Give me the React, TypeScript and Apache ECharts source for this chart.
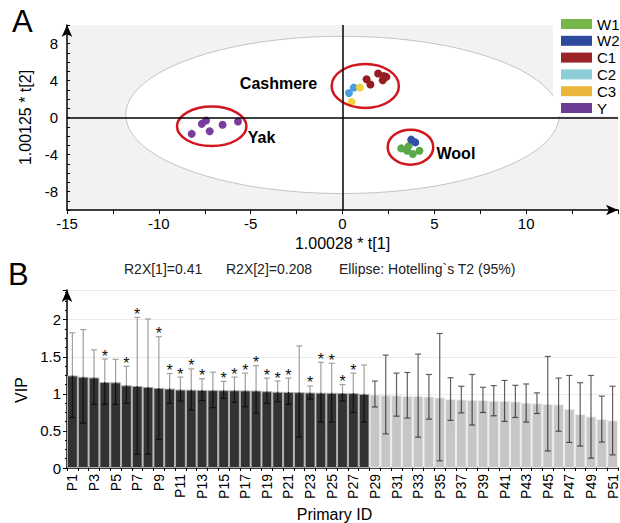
import React, { useEffect, useRef } from 'react';
import * as echarts from 'echarts';

const FONT = '"Liberation Sans", Arial, Helvetica, sans-serif';

// ---------- Panel A: PCA scores ----------
const groupNames = ['W1', 'W2', 'C1', 'C2', 'C3', 'Y'];
const legendColors = ['#78b84a', '#2e4a9e', '#9b2226', '#8ccdd6', '#ecb63a', '#6b3b96'];
const pointColors = ['#5aa948', '#2f4fa8', '#971c22', '#4a9de0', '#f2d33e', '#7a3d9e'];
const w1Points = [[3.2, -3.34], [3.52, -3.59], [3.83, -3.95], [4.19, -3.59], [3.59, -3.12]];
const w2Points = [[3.74, -2.39], [3.96, -2.69]];
const c1Points = [[1.31, 4.13], [1.52, 3.56], [1.94, 4.76], [2.24, 4.49], [2.39, 4.39], [2.19, 4.03]];
const c2Points = [[0.35, 2.64], [0.62, 3.23]];
const c3Points = [[0.95, 3.23], [0.5, 1.66]];
const yPoints = [[-8.21, -1.77], [-7.66, -0.69], [-7.43, -0.33], [-7.23, -1.49], [-6.53, -0.79], [-5.69, -0.44]];
const groupPoints = [w1Points, w2Points, c1Points, c2Points, c3Points, yPoints];

// [cx, cy, rx, ry] in data units
const hotellingEllipse = [[0, 0.28, 11.8, 8.5]];
const clusterEllipses = [[1.24, 3.41, 1.83, 2.37], [-7.12, -0.95, 1.89, 2.13], [3.7, -3.21, 1.24, 1.89]];
// [label, x, y]
const clusterLabels = [['Cashmere', -5.59, 3.63], ['Yak', -5.16, -2.15], ['Wool', 5.12, -3.93]];
const xTickLabelsA = [-15, -10, -5, 0, 5, 10];
const yTickLabelsA = [-8, -4, 0, 4, 8];

// ---------- Panel B: VIP ----------
const categories = Array.from({ length: 51 }, (_, i) => `P${i + 1}`);
const vip = [
  1.248, 1.23, 1.221, 1.159, 1.155, 1.115, 1.106, 1.093, 1.08, 1.071,
  1.058, 1.056, 1.052, 1.05, 1.049, 1.048, 1.046, 1.044, 1.035, 1.028,
  1.026, 1.022, 1.018, 1.016, 1.014, 1.012, 1.01, 1.0, 0.991, 0.982,
  0.981, 0.973, 0.972, 0.965, 0.951, 0.929, 0.925, 0.917, 0.915, 0.908,
  0.906, 0.898, 0.881, 0.872, 0.863, 0.858, 0.796, 0.726, 0.695, 0.659,
  0.642,
];
const errLow = [
  0.681, 0.606, 0.858, 0.858, 0.858, 0.872, 0.186, 0.186, 0.385, 0.872,
  0.903, 0.783, 0.91, 0.814, 0.938, 0.885, 0.827, 0.739, 0.872, 0.894,
  0.858, 0.416, 0.929, 0.619, 0.619, 0.903, 0.748, 0.619, 0.823, 0.46,
  0.699, 0.673, 0.416, 0.659, 0.097, 0.642, 0.743, 0.58, 0.748, 0.704,
  0.628, 0.681, 0.619, 0.735, 0.23, 0.496, 0.345, 0.296, 0.133, 0.35,
  0.177,
];
const errHigh = [
  1.823, 1.867, 1.593, 1.469, 1.465, 1.372, 2.031, 2.009, 1.77, 1.274,
  1.226, 1.336, 1.204, 1.292, 1.168, 1.226, 1.279, 1.38, 1.212, 1.173,
  1.212, 1.646, 1.106, 1.425, 1.412, 1.124, 1.279, 1.389, 1.173, 1.522,
  1.279, 1.288, 1.535, 1.261, 1.814, 1.217, 1.102, 1.261, 1.088, 1.111,
  1.181, 1.115, 1.133, 1.013, 1.504, 1.212, 1.248, 1.15, 1.248, 0.969,
  1.102,
];
const significant = ['P4', 'P6', 'P7', 'P9', 'P10', 'P11', 'P12', 'P13', 'P15', 'P16', 'P17', 'P18', 'P19', 'P20', 'P21', 'P23', 'P24', 'P25', 'P26', 'P27'];
const yTickLabelsB = [0, 0.5, 1, 1.5, 2];
const vipThreshold = 1;

export default function App() {
  const ref = useRef<HTMLDivElement>(null);
  useEffect(() => {
    if (!ref.current) return;
    const chart = echarts.init(ref.current, undefined, { renderer: 'svg' });

    const ellipseRender = (stroke: string, fill: string, lw: number) => (params: any, api: any) => {
      const c = api.coord([api.value(0), api.value(1)]);
      const s = api.size([api.value(2), api.value(3)]);
      return {
        type: 'ellipse',
        shape: { cx: c[0], cy: c[1], rx: s[0], ry: s[1] },
        style: { fill, stroke, lineWidth: lw },
      };
    };

    const scatterSeries = groupNames.map((name, gi) => ({
      type: 'scatter',
      name,
      xAxisIndex: 0,
      yAxisIndex: 0,
      z: 4,
      symbolSize: 8,
      itemStyle: { color: pointColors[gi], opacity: 1 },
      data: groupPoints[gi],
    }));

    const option: any = {
      animation: false,
      backgroundColor: '#ffffff',
      textStyle: { fontFamily: FONT },
      grid: [
        { left: 67, top: 25, width: 551, height: 185, show: true, backgroundColor: '#f2f2f2', borderWidth: 0 },
        { left: 67, top: 290, width: 551, height: 180.5 },
      ],
      legend: {
        data: groupNames.map((n, i) => ({ name: n, itemStyle: { color: legendColors[i] } })),
        orient: 'vertical',
        left: 553,
        top: 12,
        padding: [4, 0, 0, 8],
        backgroundColor: '#ffffff',
        itemWidth: 31,
        itemHeight: 10,
        itemGap: 0.8,
        icon: 'rect',
        selectedMode: false,
        textStyle: { fontSize: 15, lineHeight: 16, color: '#000', fontFamily: FONT },
      },
      xAxis: [
        {
          type: 'value', gridIndex: 0, min: -15, max: 15, interval: 2.5,
          axisLine: { show: true, onZero: false, lineStyle: { color: '#000', width: 1.5 }, symbol: ['none', 'arrow'], symbolSize: [8, 12] },
          axisTick: { show: true, length: 4, lineStyle: { color: '#000' } },
          axisLabel: { customValues: xTickLabelsA, fontSize: 15, color: '#000', margin: 6, fontFamily: FONT },
          splitLine: { show: false },
          name: '1.00028 * t[1]', nameLocation: 'middle', nameGap: 25,
          nameTextStyle: { fontSize: 16, color: '#000', fontFamily: FONT },
        },
        {
          type: 'category', gridIndex: 1, data: categories,
          axisLine: { lineStyle: { color: '#000', width: 1.5 } },
          axisTick: { show: true, length: 3, interval: 0, lineStyle: { color: '#000' } },
          axisLabel: { rotate: 90, interval: 1, fontSize: 14, color: '#000', margin: 6, fontFamily: FONT },
          name: 'Primary ID', nameLocation: 'middle', nameGap: 38,
          nameTextStyle: { fontSize: 16, color: '#000', fontFamily: FONT, padding: [0, 16, 0, 0] },
        },
      ],
      yAxis: [
        {
          type: 'value', gridIndex: 0, min: -10, max: 10, interval: 1,
          axisLine: { show: true, onZero: false, lineStyle: { color: '#000', width: 1.5 }, symbol: ['none', 'arrow'], symbolSize: [8, 12] },
          axisTick: { show: true, inside: true, length: 3, lineStyle: { color: '#000' } },
          axisLabel: { customValues: yTickLabelsA, fontSize: 15, color: '#000', margin: 9, fontFamily: FONT },
          splitLine: { show: false },
          name: '1.00125 * t[2]', nameLocation: 'middle', nameGap: 24,
          nameTextStyle: { fontSize: 16, color: '#000', fontFamily: FONT },
        },
        {
          type: 'value', gridIndex: 1, min: 0, max: 2.4, interval: 0.5,
          axisLine: { show: true, lineStyle: { color: '#000', width: 1.5 }, symbol: ['none', 'arrow'], symbolSize: [8, 12] },
          axisTick: { show: true, length: 4, lineStyle: { color: '#000' } },
          minorTick: { show: true, splitNumber: 4, length: 2, lineStyle: { color: '#000' } },
          axisLabel: { customValues: yTickLabelsB, fontSize: 15, color: '#000', margin: 6, fontFamily: FONT },
          splitLine: { show: true, lineStyle: { color: '#ebebeb' } },
          name: 'VIP', nameLocation: 'middle', nameGap: 28,
          nameTextStyle: { fontSize: 16, color: '#000', fontFamily: FONT, padding: [0, 22, 0, 0] },
        },
      ],
      graphic: [
        { type: 'text', left: 12, top: 6, style: { text: 'A', fontSize: 31, fontFamily: FONT, fill: '#000' } },
        { type: 'text', left: 8, top: 259, style: { text: 'B', fontSize: 31, fontFamily: FONT, fill: '#000' } },
        { type: 'text', left: 124, top: 262, style: { text: 'R2X[1]=0.41', fontSize: 14, fontFamily: FONT, fill: '#222' } },
        { type: 'text', left: 226, top: 262, style: { text: 'R2X[2]=0.208', fontSize: 14, fontFamily: FONT, fill: '#222' } },
        { type: 'text', left: 339, top: 262, style: { text: 'Ellipse: Hotelling`s T2 (95%)', fontSize: 14, fontFamily: FONT, fill: '#222' } },
      ],
      series: [
        {
          type: 'custom', name: 'hotelling', xAxisIndex: 0, yAxisIndex: 0, z: 1, silent: true,
          data: hotellingEllipse, encode: { x: 0, y: 1 },
          renderItem: ellipseRender('#c4c4c4', '#ffffff', 1),
          markLine: {
            silent: true, symbol: ['none', 'none'], label: { show: false },
            lineStyle: { color: '#000', width: 1.5, type: 'solid' },
            data: [{ xAxis: 0 }, { yAxis: 0 }],
            z: 6,
          },
        },
        ...scatterSeries,
        {
          type: 'custom', name: 'clusters', xAxisIndex: 0, yAxisIndex: 0, z: 5, silent: true,
          data: clusterEllipses, encode: { x: 0, y: 1 },
          renderItem: ellipseRender('#d2161e', 'none', 2.5),
        },
        {
          type: 'custom', name: 'clusterNames', xAxisIndex: 0, yAxisIndex: 0, z: 6, silent: true,
          data: clusterLabels.map((d) => [d[1], d[2], d[0]]),
          encode: { x: 0, y: 1 },
          renderItem: (params: any, api: any) => {
            const p = api.coord([api.value(0), api.value(1)]);
            return {
              type: 'text',
              style: {
                text: clusterLabels[params.dataIndex][0], x: p[0], y: p[1],
                fontSize: 16, fontWeight: 'bold', fontFamily: FONT, fill: '#000',
                align: 'left', verticalAlign: 'middle',
              },
            };
          },
        },
        {
          type: 'bar', name: 'VIP', xAxisIndex: 1, yAxisIndex: 1, barCategoryGap: '0%', z: 2,
          data: vip.map((v) => ({
            value: v,
            itemStyle: {
              color: v >= vipThreshold ? '#333333' : '#c6c6c6',
              borderColor: v >= vipThreshold ? '#b0b0b0' : '#ececec',
              borderWidth: 1,
            },
          })),
        },
        {
          type: 'custom', name: 'err', xAxisIndex: 1, yAxisIndex: 1, z: 5, silent: true,
          data: categories.map((c, i) => [i, errLow[i], errHigh[i], vip[i], significant.includes(c) ? 1 : 0]),
          encode: { x: 0, y: [1, 2] },
          renderItem: (params: any, api: any) => {
            const i = api.value(0);
            const lo = api.coord([i, api.value(1)]);
            const hi = api.coord([i, api.value(2)]);
            const mid = api.coord([i, api.value(3)]);
            const dark = api.value(3) >= vipThreshold;
            const upC = dark ? '#a0a0a0' : '#606060';
            const lowC = dark ? '#111111' : '#4a4a4a';
            const cw = 3;
            const lw = 1.2;
            const children: any[] = [
              { type: 'line', shape: { x1: hi[0], y1: hi[1], x2: mid[0], y2: mid[1] }, style: { stroke: upC, lineWidth: lw } },
              { type: 'line', shape: { x1: mid[0], y1: mid[1], x2: lo[0], y2: lo[1] }, style: { stroke: lowC, lineWidth: lw } },
              { type: 'line', shape: { x1: hi[0] - cw, y1: hi[1], x2: hi[0] + cw, y2: hi[1] }, style: { stroke: upC, lineWidth: lw } },
              { type: 'line', shape: { x1: lo[0] - cw, y1: lo[1], x2: lo[0] + cw, y2: lo[1] }, style: { stroke: lowC, lineWidth: lw } },
            ];
            if (api.value(4)) {
              children.push({
                type: 'text',
                style: { text: '*', x: hi[0], y: hi[1] - 3, fontSize: 16, fontFamily: FONT, fill: '#111', align: 'center', verticalAlign: 'middle' },
              });
            }
            return { type: 'group', children };
          },
        },
      ],
    };

    chart.setOption(option);
    return () => chart.dispose();
  }, []);

  return <div ref={ref} style={{ position: 'absolute', left: 0, top: 0, width: 620, height: 523 }} />;
}
